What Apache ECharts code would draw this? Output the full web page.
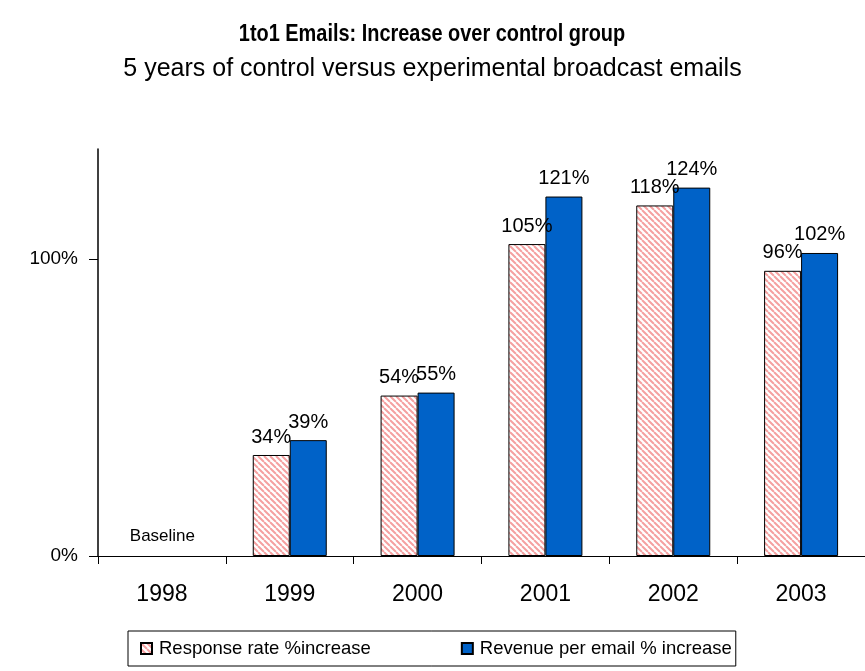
<!DOCTYPE html>
<html>
<head>
<meta charset="utf-8">
<script src="https://cdn.jsdelivr.net/npm/echarts@6/dist/echarts.min.js"></script>
<style>
  html, body { margin: 0; padding: 0; background: #fff; }
  #chart { width: 865px; height: 671px; }
</style>
</head>
<body>
<div id="chart"></div>
<script>
// Years on the category axis
const years = ['1998', '1999', '2000', '2001', '2002', '2003'];
// Increase over the control group, in percent (1998 is the baseline year)
const responseRate = [null, 34, 54, 105, 118, 96];
const revenuePerEmail = [null, 39, 55, 121, 124, 102];
// Value axis ticks, in percent
const yTicks = [0, 100];
const yMax = 137;

const FONT = '"Liberation Sans", Arial, sans-serif';

// Diagonal pink hatching used for the response-rate bars
function hatchPattern() {
  const size = 6;
  const c = document.createElement('canvas');
  c.width = size; c.height = size;
  const ctx = c.getContext('2d');
  ctx.fillStyle = '#ffffff';
  ctx.fillRect(0, 0, size, size);
  ctx.strokeStyle = '#f5a0a0';
  ctx.lineWidth = 2;
  ctx.beginPath();
  for (let k = -size; k <= size * 2; k += size) {
    ctx.moveTo(k, 0);
    ctx.lineTo(k + size, size);
  }
  ctx.stroke();
  return c;
}

const chart = echarts.init(document.getElementById('chart'), null, { renderer: 'canvas' });

const labelStyle = {
  show: true,
  position: 'top',
  distance: 8,
  formatter: p => p.value + '%',
  color: '#000',
  fontFamily: FONT,
  fontSize: 20
};

chart.setOption({
  animation: false,
  backgroundColor: '#fff',
  // Bold heading drawn slightly condensed
  graphic: [
    {
      type: 'text',
      x: 432,
      y: 34,
      scaleX: 0.83,
      style: {
        text: '1to1 Emails: Increase over control group',
        textAlign: 'center',
        textVerticalAlign: 'middle',
        fontFamily: FONT,
        fontWeight: 'bold',
        fontSize: 24,
        fill: '#000'
      }
    }
  ],
  title: {
    text: '5 years of control versus experimental broadcast emails',
    left: 'center',
    top: 52,
    textStyle: { fontFamily: FONT, fontWeight: 'normal', fontSize: 25, color: '#000' }
  },
  legend: {
    left: 128,
    top: 631,
    orient: 'horizontal',
    padding: [8, 4, 8, 12],
    borderColor: '#000',
    borderWidth: 1,
    itemWidth: 11,
    itemHeight: 11,
    itemGap: 90,
    icon: 'rect',
    textStyle: { fontFamily: FONT, fontSize: 18.5, color: '#000', padding: [0, 0, 0, 2] }
  },
  grid: {
    left: 98,
    top: 149,
    right: -10,
    bottom: 115,
    containLabel: false
  },
  xAxis: {
    type: 'category',
    data: years,
    axisLine: { lineStyle: { color: '#000', width: 1 } },
    axisTick: { show: true, length: 8, lineStyle: { color: '#000' } },
    axisLabel: { margin: 27, fontFamily: FONT, fontSize: 23, color: '#000' }
  },
  yAxis: {
    type: 'value',
    min: yTicks[0],
    max: yMax,
    interval: yTicks[1] - yTicks[0],
    axisLine: { show: true, lineStyle: { color: '#000', width: 1.5 } },
    axisTick: { show: true, length: 9, customValues: yTicks, lineStyle: { color: '#000' } },
    axisLabel: { margin: 20, customValues: yTicks, formatter: '{value}%', fontFamily: FONT, fontSize: 19, color: '#000' },
    splitLine: { show: true, showMaxLine: false, lineStyle: { color: '#9a9a9a', type: [1, 1], width: 1 } }
  },
  series: [
    {
      name: 'Response rate %increase',
      type: 'bar',
      data: responseRate,
      barWidth: 37,
      barGap: '0%',
      itemStyle: {
        color: { image: hatchPattern(), repeat: 'repeat' },
        borderColor: '#000',
        borderWidth: 1
      },
      label: labelStyle,
      markPoint: {
        symbol: 'rect',
        symbolSize: 0,
        data: [{ coord: [years[0], 0], value: 'Baseline' }],
        label: {
          show: true,
          position: 'top',
          distance: 11,
          offset: [19, 0],
          formatter: 'Baseline',
          color: '#000',
          fontFamily: FONT,
          fontSize: 17
        }
      }
    },
    {
      name: 'Revenue per email % increase',
      type: 'bar',
      data: revenuePerEmail,
      barWidth: 37,
      barGap: '0%',
      itemStyle: { color: '#0062c8', borderColor: '#000', borderWidth: 1 },
      label: labelStyle
    }
  ]
});
</script>
</body>
</html>
